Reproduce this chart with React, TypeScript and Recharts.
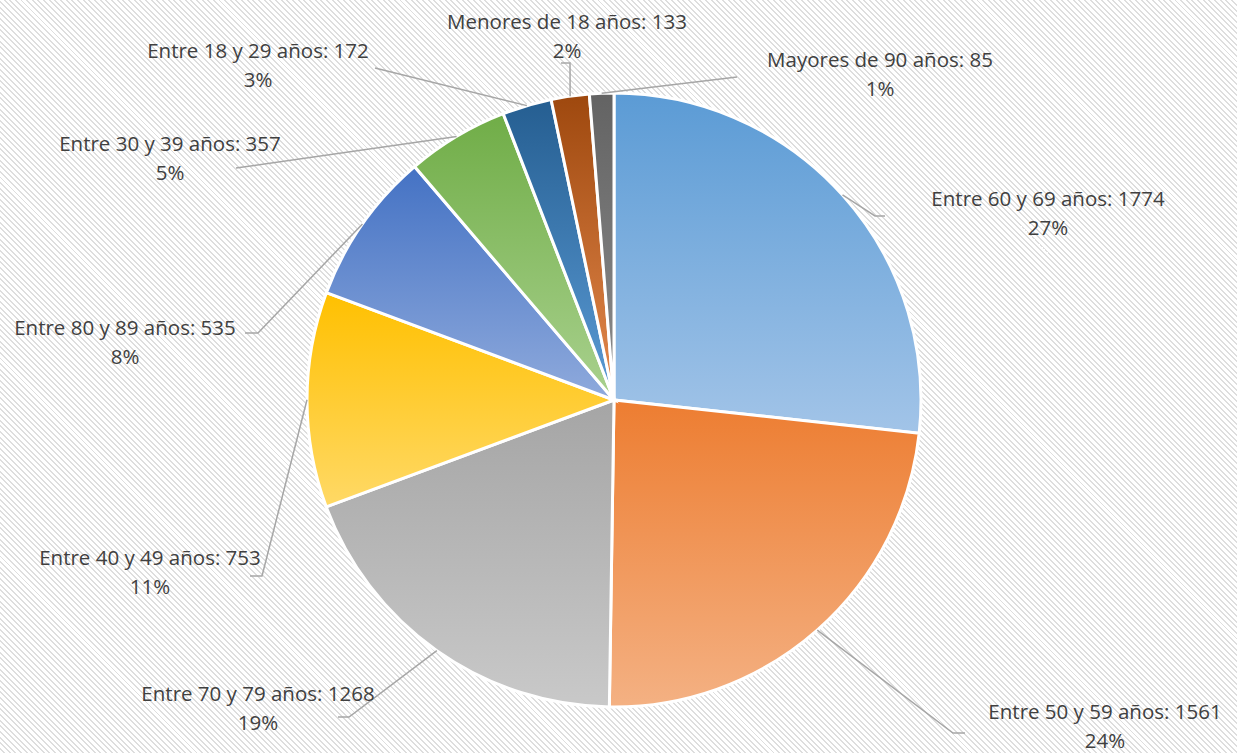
import React from 'react';
import { PieChart, Pie, Cell } from 'recharts';

// datos
const categories = [
  'Entre 60 y 69 años',
  'Entre 50 y 59 años',
  'Entre 70 y 79 años',
  'Entre 40 y 49 años',
  'Entre 80 y 89 años',
  'Entre 30 y 39 años',
  'Entre 18 y 29 años',
  'Menores de 18 años',
  'Mayores de 90 años',
];
const values = [1774, 1561, 1268, 753, 535, 357, 172, 133, 85];

// colores (arriba, abajo) de cada porción
const gradTop = ['#5B9BD5', '#ED7D31', '#A5A5A5', '#FFC000', '#4472C4', '#70AD47', '#255E91', '#9E480E', '#636363'];
const gradBottom = ['#A2C4E8', '#F4B183', '#C9C9C9', '#FFD966', '#8FAADC', '#A9D18E', '#5B9BD5', '#E58A4E', '#8C8C8C'];

// posición de las etiquetas relativa al centro: codo de la línea, cola, centro del texto
const labelLayout = [
  { elbow: [261, -184], tail: 10, text: [434, -188] },
  { elbow: [339, 333], tail: 12, text: [491, 325] },
  { elbow: [-265, 317], tail: -11, text: [-356, 307] },
  { elbow: [-352, 176], tail: -12, text: [-464, 171] },
  { elbow: [-356, -67], tail: -13, text: [-489, -59] },
  { elbow: [-378, -232], tail: 0, text: [-444, -243] },
  { elbow: [-239, -332], tail: 0, text: [-356, -336] },
  { elbow: [-44, -337], tail: -9, text: [-47, -365] },
  { elbow: [123, -323], tail: 0, text: [266, -327] },
];

const data = categories.map((name, i) => ({ name, value: values[i] }));

const RAD = Math.PI / 180;

const renderLabel = (props: any) => {
  const { cx, cy, midAngle, outerRadius, index, percent, value, name } = props;
  const lay = labelLayout[index];
  const sx = cx + outerRadius * Math.cos(-midAngle * RAD);
  const sy = cy + outerRadius * Math.sin(-midAngle * RAD);
  const ex = cx + lay.elbow[0];
  const ey = cy + lay.elbow[1];
  const tx = cx + lay.text[0];
  const ty = cy + lay.text[1];
  return (
    <g>
      <polyline
        points={`${sx},${sy} ${ex},${ey} ${ex + lay.tail},${ey}`}
        fill="none"
        stroke="#A6A6A6"
        strokeWidth={1.5}
      />
      <text x={tx} y={ty - 14} textAnchor="middle" dominantBaseline="central" fill="#404040" fontSize={20.5}>
        {`${name}: ${value}`}
      </text>
      <text x={tx} y={ty + 15} textAnchor="middle" dominantBaseline="central" fill="#404040" fontSize={20.5}>
        {`${Math.round(percent * 100)}%`}
      </text>
    </g>
  );
};

const App: React.FC = () => {
  return (
    <div
      style={{
        position: 'absolute',
        left: 0,
        top: 0,
        width: 1237,
        height: 753,
        background: 'repeating-linear-gradient(45deg, #ffffff 0px, #ffffff 2.6px, #dedede 2.6px, #dedede 4px)',
        fontFamily: '"Open Sans", sans-serif',
      }}
    >
      <PieChart width={1237} height={753} margin={{ top: 0, right: 0, bottom: 0, left: 0 }}>
        <defs>
          {gradTop.map((c, i) => (
            <linearGradient key={i} id={`g${i}`} x1="0" y1="0" x2="0" y2="1">
              <stop offset="0%" stopColor={c} />
              <stop offset="100%" stopColor={gradBottom[i]} />
            </linearGradient>
          ))}
        </defs>
        <Pie
          data={data}
          dataKey="value"
          nameKey="name"
          cx={614}
          cy={400}
          outerRadius={307}
          startAngle={90}
          endAngle={-270}
          stroke="#ffffff"
          strokeWidth={3}
          label={renderLabel}
          labelLine={false}
          isAnimationActive={false}
        >
          {data.map((d, i) => (
            <Cell key={d.name} fill={`url(#g${i})`} />
          ))}
        </Pie>
      </PieChart>
    </div>
  );
};

export default App;
